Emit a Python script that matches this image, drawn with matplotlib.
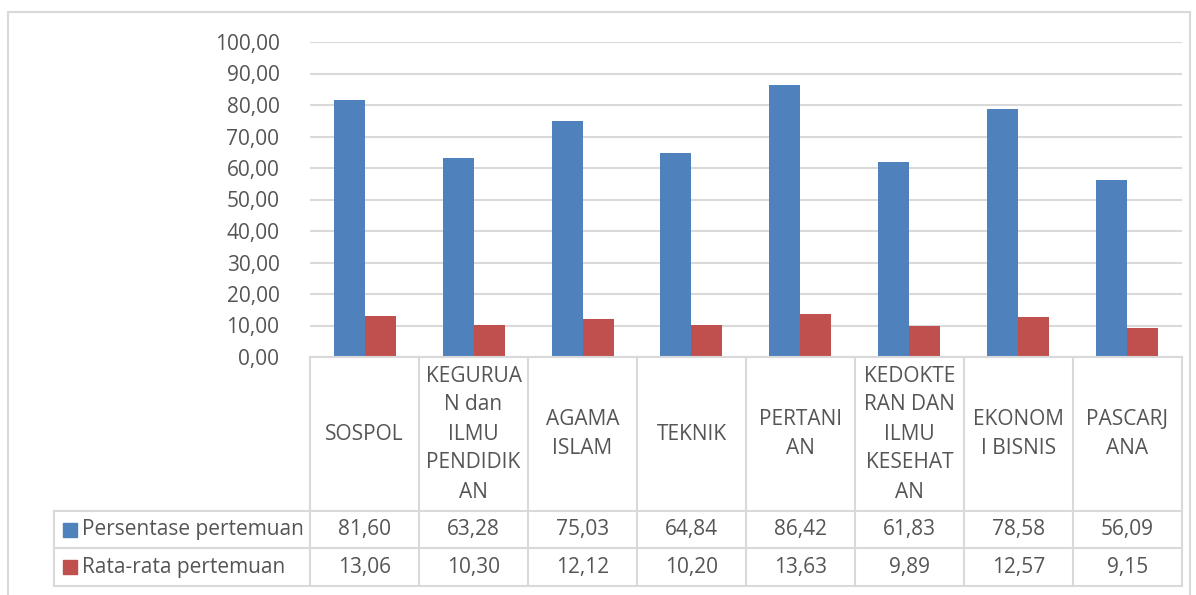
import numpy as np
import matplotlib.pyplot as plt
from matplotlib.lines import Line2D
from matplotlib.patches import Rectangle

plt.rcParams['font.family'] = ['Open Sans', 'DejaVu Sans']
plt.rcParams['font.size'] = 15

categories = ['SOSPOL', 'KEGURUA\nN dan\nILMU\nPENDIDIK\nAN', 'AGAMA\nISLAM', 'TEKNIK',
              'PERTANI\nAN', 'KEDOKTE\nRAN DAN\nILMU\nKESEHAT\nAN', 'EKONOM\nI BISNIS', 'PASCARJ\nANA']
persentase = [81.60, 63.28, 75.03, 64.84, 86.42, 61.83, 78.58, 56.09]
rata_rata = [13.06, 10.30, 12.12, 10.20, 13.63, 9.89, 12.57, 9.15]
series_names = ['Persentase pertemuan', 'Rata-rata pertemuan']
yticks = np.arange(0, 101, 10)

W, H = 1196, 595
blue, red = '#4F81BD', '#C0504D'
txt = '#555555'
grid = '#D9D9D9'

fig = plt.figure(figsize=(W / 100, H / 100), dpi=100)

def fx(px):
    return px / W

def fy(py):
    return 1 - py / H

# outer chart frame
fig.add_artist(Rectangle((fx(8), fy(640)), fx(1190) - fx(8), fy(12) - fy(640),
                         transform=fig.transFigure, fill=False, ec=grid, lw=1.5))

x0, x1, ytop, ybot = 310, 1182, 42, 357
ax = fig.add_axes([fx(x0), fy(ybot), fx(x1) - fx(x0), fy(ytop) - fy(ybot)])
n = len(categories)
x = np.arange(n)
bw = 31 / 109
ax.bar(x - bw / 2, persentase, bw, color=blue, zorder=3)
ax.bar(x + bw / 2, rata_rata, bw, color=red, zorder=3)
ax.set_xlim(-0.5, n - 0.5)
ax.set_ylim(0, 100)
ax.set_yticks(yticks)
ax.set_yticklabels([f'{v:.2f}'.replace('.', ',') for v in yticks], color=txt)
ax.tick_params(axis='y', length=0, pad=22)
ax.set_xticks([])
ax.yaxis.grid(True, color=grid, lw=1.5, zorder=0)
for s in ax.spines.values():
    s.set_visible(False)

# data table
cw = (x1 - x0) / n
rows = [357, 511, 548, 586]
lc = dict(color=grid, lw=1.5, transform=fig.transFigure)
fig.add_artist(Line2D([fx(x0), fx(x1)], [fy(rows[0])] * 2, **lc))
for r in rows[1:]:
    fig.add_artist(Line2D([fx(54), fx(x1)], [fy(r)] * 2, **lc))
fig.add_artist(Line2D([fx(54)] * 2, [fy(rows[1]), fy(rows[3])], **lc))
for i in range(n + 1):
    xx = x0 + i * cw
    fig.add_artist(Line2D([fx(xx)] * 2, [fy(rows[0]), fy(rows[3])], **lc))

for i, cat in enumerate(categories):
    cx = x0 + (i + 0.5) * cw
    fig.text(fx(cx), fy((rows[0] + rows[1]) / 2), cat, ha='center', va='center',
             color=txt, linespacing=1.5)
    fig.text(fx(cx), fy((rows[1] + rows[2]) / 2), f'{persentase[i]:.2f}'.replace('.', ','),
             ha='center', va='center', color=txt)
    fig.text(fx(cx), fy((rows[2] + rows[3]) / 2), f'{rata_rata[i]:.2f}'.replace('.', ','),
             ha='center', va='center', color=txt)

for j, (name, col) in enumerate(zip(series_names, [blue, red])):
    cy = (rows[j + 1] + rows[j + 2]) / 2
    fig.add_artist(Rectangle((fx(63), fy(cy + 7)), fx(14), fy(cy - 7) - fy(cy + 7),
                             transform=fig.transFigure, color=col))
    fig.text(fx(82), fy(cy), name, ha='left', va='center', color=txt)

fig.savefig('out.png', dpi=100)
